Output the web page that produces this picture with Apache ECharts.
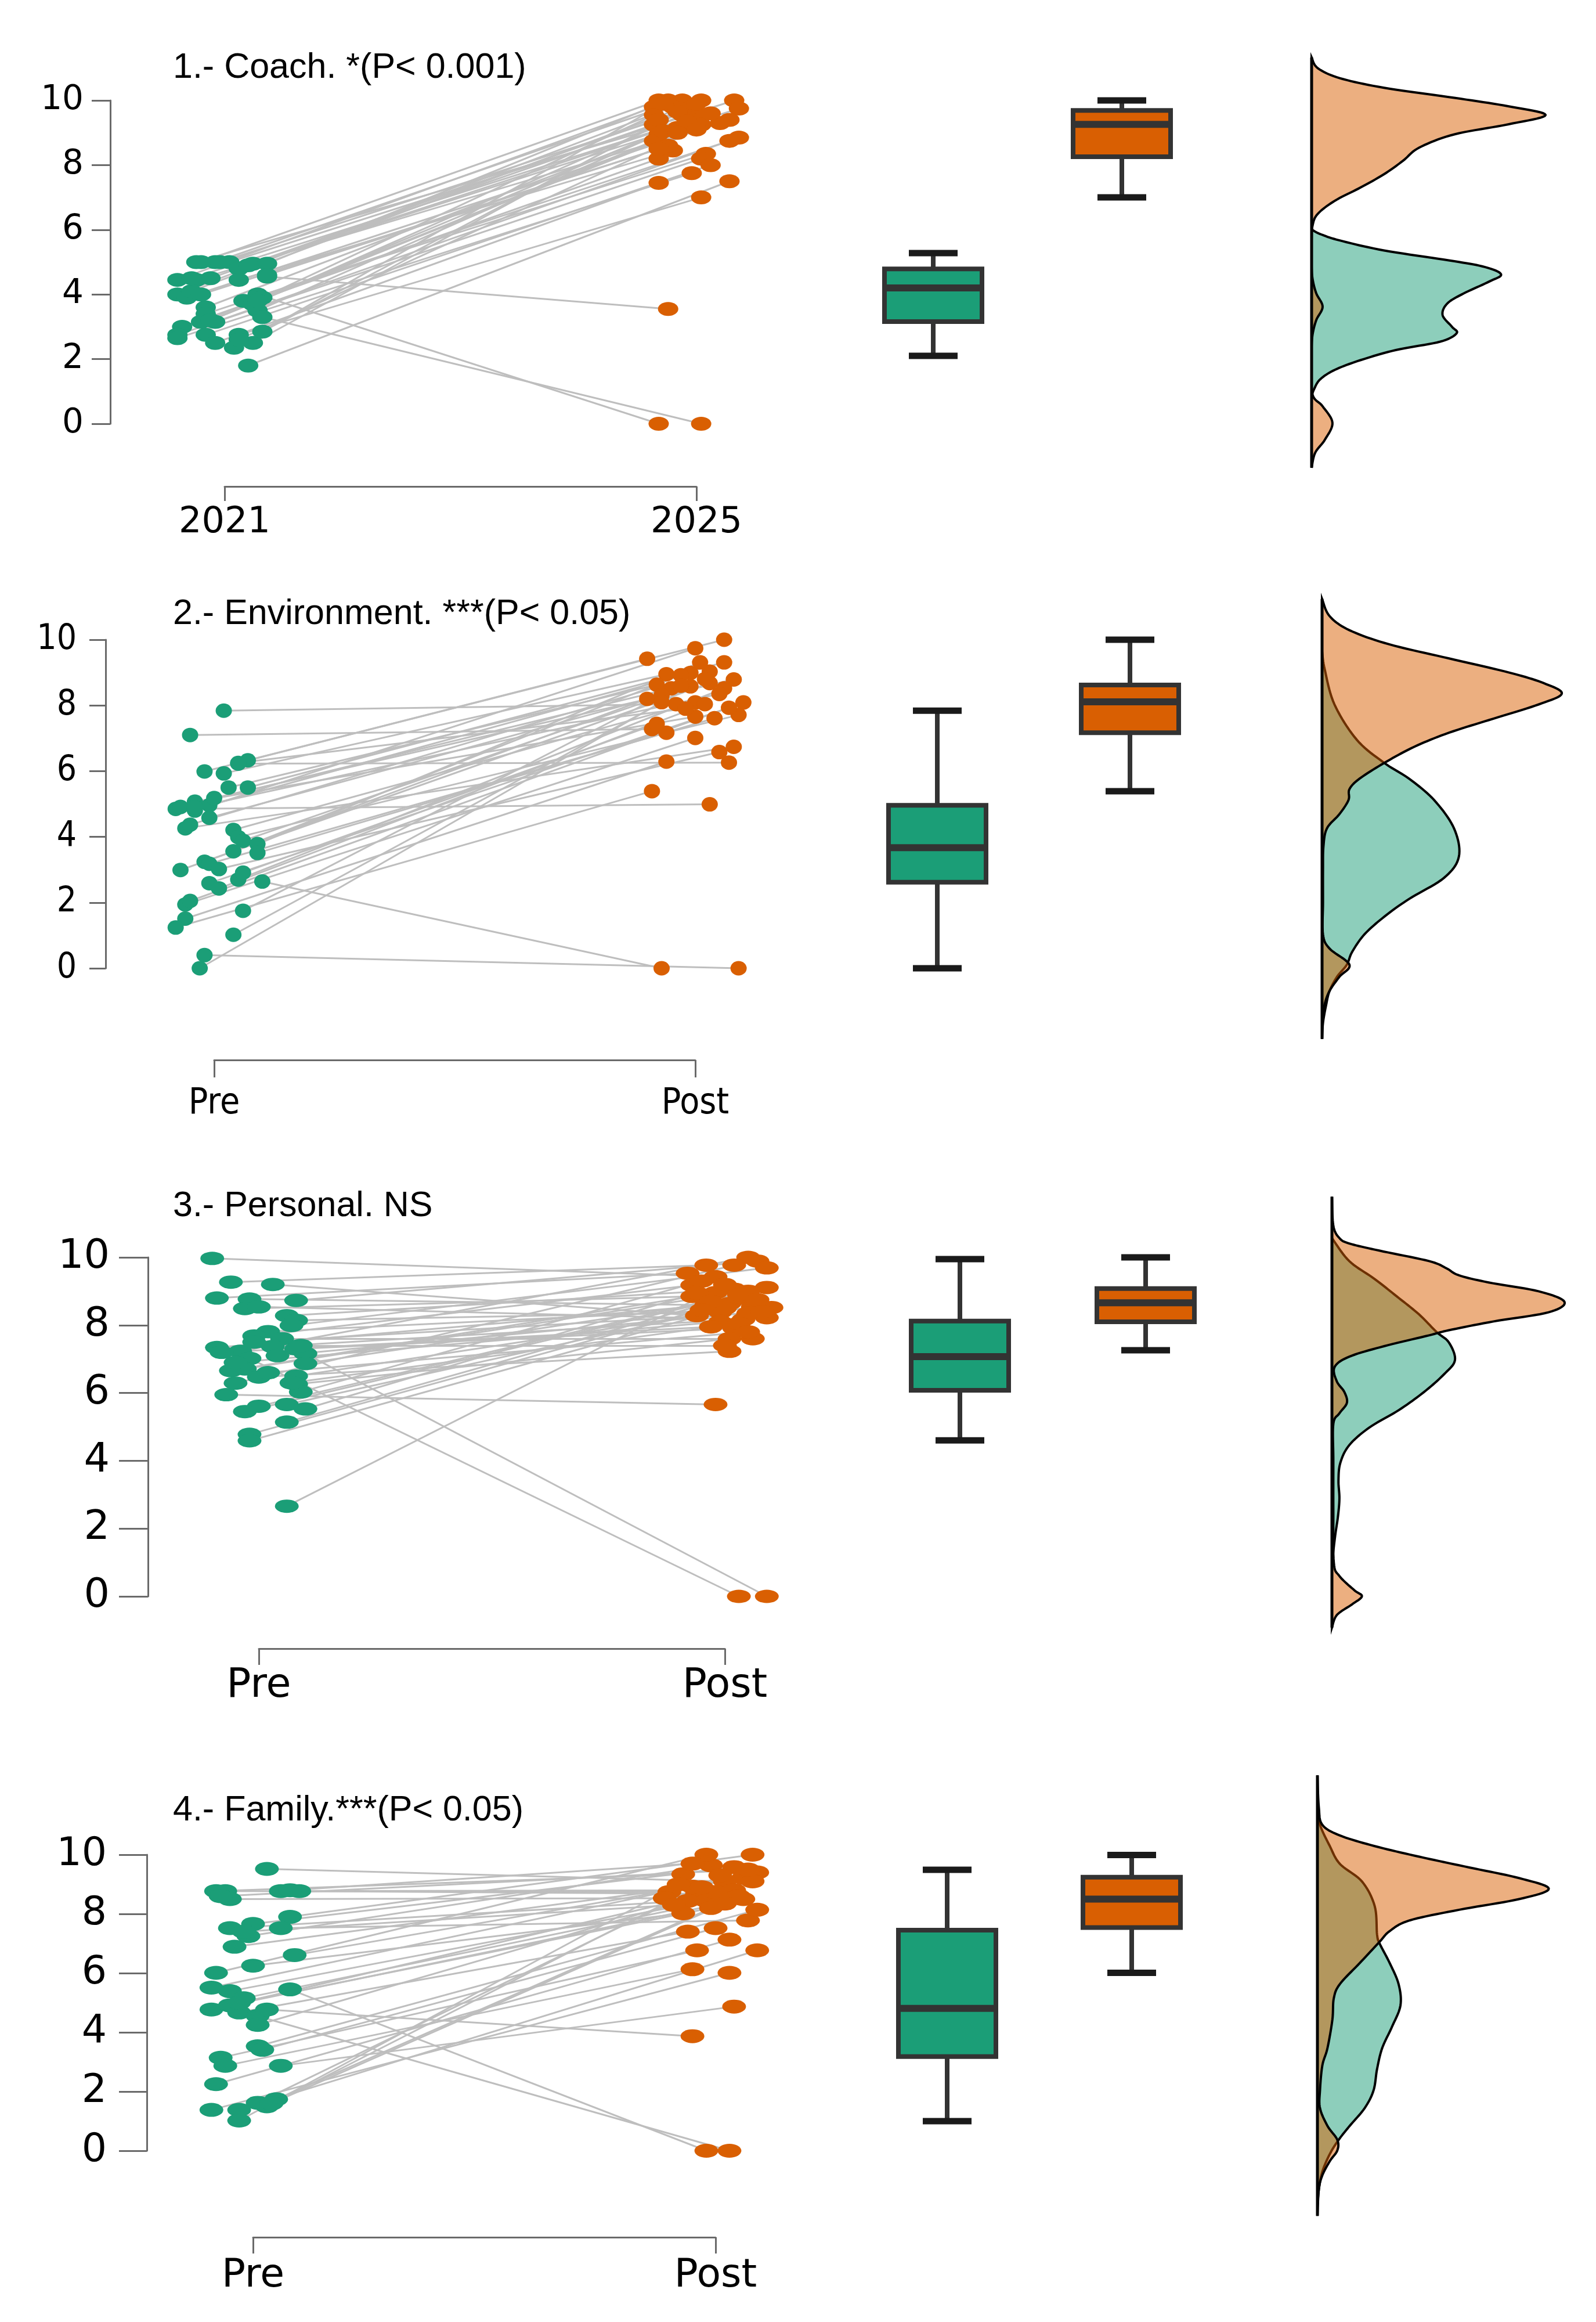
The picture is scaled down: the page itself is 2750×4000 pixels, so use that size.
<!DOCTYPE html>
<html><head><meta charset="utf-8">
<script src="https://cdn.jsdelivr.net/npm/echarts@6/dist/echarts.min.js"></script>
<style>html,body{margin:0;padding:0;background:#fff}#c{width:2750px;height:4000px}</style>
</head><body><div id="c"></div>
<script>
// ---------------- DATA ----------------
const titles = ['1.- Coach. *(P< 0.001)', '2.- Environment. ***(P< 0.05)', '3.- Personal. NS', '4.- Family.***(P< 0.05)'];
const xTickValues = [1, 2];
const xTickLabelsYears = ['2021', '2025'];
const xTickLabelsPrePost = ['Pre', 'Post'];

// Panel 1 - Coach (paired: pre[i] -> post[i]); X = jittered position (1 = first group, 2 = second)
const coachPreX = [0.95,0.94,0.98,1.01,1.03,1.06,1.09,0.90,0.94,0.97,1.03,1.09,0.90,0.92,0.93,1.04,1.07,1.08,0.96,0.96,1.06,1.07,1.08,0.95,0.97,0.98,0.91,0.90,0.90,0.96,0.98,1.03,1.02,1.06,1.08,1.05,0.99,1.05,0.93,1.07,0.97,1.03,1.09,0.95];
const coachPre  = [5.0,5.0,5.0,5.0,4.8,4.95,4.95,4.45,4.45,4.5,4.45,4.55,4.0,3.9,4.1,3.8,4.0,3.9,3.6,3.4,3.7,3.5,3.3,3.15,3.2,3.15,3.0,2.75,2.65,2.75,2.5,2.75,2.35,2.5,2.85,1.8,5.0,4.9,4.5,3.8,3.2,2.6,4.6,4.0];
const coachPostX = [1.92,2.01,1.97,2.08,1.91,2.09,1.94,1.91,2.07,1.99,1.95,1.94,1.95,2.05,2.01,2.02,1.92,1.91,1.96,2.09,1.97,1.92,2.01,2.01,1.91,2.07,1.92,2.01,1.99,2.03,1.92,2.01,1.93,1.96,2.0,2.07,1.92,1.98,2.03,1.93,1.96,2.0,1.94,1.92];
const coachPost  = [10.0,9.55,10.0,10.0,9.25,9.75,10.0,9.8,9.4,9.8,8.45,3.55,9.8,9.3,10.0,8.35,0,9.55,9.15,8.85,9.55,8.95,0,9.25,8.75,8.75,8.2,8.2,7.75,8.0,7.45,7.0,9.9,9.65,9.9,7.5,9.4,9.35,9.6,9.05,9.0,9.1,8.6,8.5];
const coachBoxPre  = [2.1, 3.16, 4.2, 4.79, 5.28];   // min, q1, median, q3, max
const coachBoxPost = [7.0, 8.26, 9.26, 9.69, 10.0];
const coachDensPre  = [[6.01,0],[5.87,0.036],[5.67,0.12],[5.36,0.31],[5.05,0.59],[4.85,0.74],[4.62,0.81],[4.40,0.76],[4.03,0.65],[3.72,0.58],[3.36,0.56],[3.0,0.60],[2.80,0.62],[2.54,0.55],[2.28,0.36],[1.97,0.21],[1.67,0.10],[1.37,0.036],[1.06,0.01],[0.85,0]];
const coachDensPost = [[11.33,0],[11.0,0.026],[10.69,0.12],[10.39,0.31],[10.08,0.61],[9.82,0.84],[9.55,1.0],[9.26,0.84],[8.95,0.61],[8.54,0.46],[8.13,0.39],[7.72,0.31],[7.31,0.21],[6.90,0.10],[6.49,0.026],[6.13,0.004],[5.67,0],[4.85,0],[4.44,0.005],[4.03,0.02],[3.62,0.047],[3.21,0.02],[2.80,0.005],[2.4,0],[1.77,0],[0.90,0.004],[0.54,0.047],[0.03,0.089],[-0.49,0.057],[-0.90,0.015],[-1.36,0]];

// Panel 2 - Environment
const envPreX = [1.02,0.95,0.98,1.02,1.03,1.07,1.05,1.07,0.92,0.93,0.96,0.96,0.99,1.00,0.99,0.94,0.95,1.04,1.05,1.06,1.04,1.09,1.09,0.98,0.99,0.93,1.01,0.99,1.01,1.05,1.06,1.10,0.94,0.95,0.94,0.92,1.06,1.04,0.98,0.97,0.96,1.05];
const envPre  = [7.84,7.10,5.99,5.93,5.50,5.50,6.23,6.33,4.85,4.91,5.07,4.80,4.96,5.18,4.58,4.26,4.37,4.21,3.99,3.88,3.56,3.78,3.51,3.24,3.18,2.99,3.02,2.59,2.43,2.70,2.91,2.64,1.94,2.05,1.51,1.24,1.75,1.02,0.40,0.0,4.9,6.25];
const envPostX = [1.96,1.91,1.90,1.94,1.92,2.06,2.07,2.06,2.03,1.95,2.00,2.00,1.99,2.08,1.93,2.08,2.03,2.00,2.09,1.99,1.97,2.01,2.04,1.90,1.94,2.03,2.05,2.07,2.02,2.06,1.92,1.93,2.00,2.10,1.94,1.91,1.97,2.02,2.09,1.93,2.05,1.98];
const envPost  = [8.04,7.28,9.42,8.95,8.63,9.31,6.26,10.0,4.99,8.52,7.66,9.74,8.99,8.79,8.31,6.74,9.03,8.09,7.71,8.58,8.92,9.31,7.61,8.20,7.17,8.68,6.58,7.93,8.04,8.52,7.44,0,7.01,8.09,6.29,5.39,8.6,8.8,0,8.1,8.35,7.9];
const envBoxPre  = [0, 2.62, 3.67, 4.96, 7.84];
const envBoxPost = [5.39, 7.17, 8.11, 8.62, 10.0];
const envDensPre  = [[9.65,0],[9.11,0.011],[8.03,0.053],[6.95,0.149],[6.25,0.266],[5.77,0.372],[5.12,0.479],[4.26,0.564],[3.40,0.585],[2.75,0.521],[2.11,0.372],[1.57,0.266],[1.03,0.181],[0.49,0.128],[0.11,0.106],[-0.26,0.064],[-0.69,0.032],[-1.13,0.017],[-1.66,0.004],[-2.15,0]];
const envDensPost = [[11.24,0],[10.72,0.032],[10.29,0.117],[9.86,0.287],[9.43,0.543],[9.0,0.80],[8.68,0.947],[8.36,1.025],[8.03,0.926],[7.60,0.734],[7.17,0.543],[6.74,0.394],[6.25,0.266],[5.77,0.16],[5.45,0.117],[5.12,0.113],[4.69,0.074],[4.26,0.021],[3.72,0.006],[3.0,0.004],[2.0,0.004],[1.03,0.004],[0.60,0.032],[0.11,0.117],[-0.26,0.074],[-0.69,0.032],[-1.13,0.01],[-1.66,0.002],[-2.15,0]];

// Panel 3 - Personal
const personalPreX = [0.90,0.94,1.03,0.91,0.98,1.08,0.97,1.00,1.06,1.08,1.07,1.02,0.99,1.05,0.91,0.96,1.03,1.08,1.10,0.98,1.10,0.94,0.97,1.00,1.08,0.95,1.08,1.09,0.93,1.06,1.10,1.00,0.97,1.06,0.98,0.98,1.06,0.99,1.04,0.95,1.07,0.92,1.02,1.09];
const personalPre  = [9.97,9.27,9.20,8.80,8.77,8.73,8.49,8.54,8.28,8.14,7.99,7.81,7.68,7.60,7.34,7.23,7.37,7.30,7.16,7.02,6.87,6.66,6.71,6.47,6.50,6.29,6.26,6.03,5.95,5.66,5.53,5.61,5.45,5.14,4.78,4.59,2.66,7.5,7.1,6.9,6.3,7.2,6.6,7.4];
const personalPostX = [1.98,1.96,1.94,1.92,1.96,2.07,1.93,2.04,2.02,1.99,2.09,2.10,1.93,2.06,2.01,2.05,2.09,2.02,2.09,2.03,2.04,1.98,2.09,2.01,2.06,2.02,2.01,1.95,1.98,2.0,1.94,2.05,1.97,2.03,1.95,2.07,2.0,2.05,2.08,1.99,2.03,1.97,2.05,2.0];
const personalPost  = [9.43,9.77,8.28,9.53,8.59,9.89,8.85,8.17,9.06,8.38,9.69,8.52,9.18,7.60,8.64,10.0,8.22,7.91,0,0,8.80,8.96,9.11,7.23,8.54,9.77,7.60,9.3,5.66,8.5,8.95,9.0,8.7,8.9,8.45,8.75,9.2,8.35,8.4,8.1,8.05,7.95,7.8,7.4];
const personalBoxPre  = [4.60, 6.08, 7.07, 8.12, 9.95];
const personalBoxPost = [7.26, 8.10, 8.66, 9.08, 10.0];
const personalDensPre  = [[10.57,0],[9.89,0.074],[9.37,0.181],[8.85,0.277],[8.32,0.372],[7.80,0.447],[7.49,0.50],[6.97,0.526],[6.55,0.479],[6.03,0.394],[5.50,0.287],[4.98,0.16],[4.46,0.074],[3.94,0.036],[3.42,0.028],[2.89,0.032],[2.37,0.026],[1.85,0.015],[1.33,0.006],[0.91,0]];
const personalDensPost = [[11.79,0],[10.93,0.006],[10.57,0.032],[10.41,0.074],[10.20,0.202],[9.89,0.415],[9.68,0.489],[9.47,0.543],[9.26,0.67],[9.0,0.883],[8.69,0.994],[8.38,0.926],[8.11,0.691],[7.85,0.50],[7.70,0.415],[7.38,0.223],[7.07,0.074],[6.76,0.011],[6.34,0.021],[6.03,0.053],[5.71,0.064],[5.40,0.032],[5.09,0.006],[4.0,0.006],[2.5,0.006],[1.0,0.008],[0.60,0.032],[0.18,0.096],[0.0,0.128],[-0.24,0.085],[-0.55,0.021],[-0.92,0]];

// Panel 4 - Family
const familyPreX = [1.03,0.92,0.94,0.95,1.06,1.10,1.08,1.06,1.00,0.95,0.99,0.96,1.09,1.00,0.92,0.91,0.95,0.98,1.08,0.91,0.95,0.97,1.01,1.03,1.01,1.01,1.02,0.93,0.94,1.06,0.92,0.91,0.97,0.97,1.01,1.03,1.05,0.93,1.08,0.98,0.97,1.04];
const familyPre  = [9.52,8.77,8.77,8.50,8.77,8.77,7.90,7.52,7.66,7.52,7.25,6.89,6.61,6.25,6.01,5.51,5.39,5.15,5.45,4.77,4.91,4.67,4.55,4.77,4.25,3.53,3.41,3.14,2.87,2.87,2.25,1.38,1.38,1.02,1.62,1.50,1.74,8.6,8.8,7.4,5.0,1.6];
const familyPostX = [2.02,1.93,1.90,1.89,2.04,1.96,2.08,2.07,2.04,1.94,1.99,1.95,2.06,1.93,1.98,2.09,1.98,2.03,1.98,2.00,2.06,1.94,2.03,1.95,2.08,2.09,2.00,1.96,1.95,2.04,2.03,2.03,2.09,1.92,1.97,2.01,2.05,2.07,1.95,1.91,1.99,2.02];
const familyPost  = [9.10,9.34,8.74,8.53,8.80,8.68,10.0,7.78,9.58,8.44,9.64,8.92,9.22,8.02,10.0,9.40,8.44,8.53,0,8.74,8.50,7.40,0,3.87,9.10,8.14,7.52,6.77,6.13,4.87,7.13,6.01,6.77,9.0,8.9,9.3,8.6,9.5,9.7,8.3,8.2,8.35];
const familyBoxPre  = [1.0, 3.18, 4.81, 7.45, 9.49];
const familyBoxPost = [6.01, 7.54, 8.50, 9.24, 9.99];
const familyDensPre  = [[11.6,0],[11.01,0.011],[10.29,0.053],[9.69,0.096],[9.09,0.191],[8.26,0.245],[7.30,0.255],[7.00,0.266],[6.34,0.309],[5.63,0.347],[4.91,0.355],[4.19,0.319],[3.47,0.277],[2.76,0.255],[2.04,0.24],[1.44,0.202],[0.84,0.138],[0.37,0.091],[-0.11,0.053],[-0.71,0.021],[-1.31,0.006],[-1.91,0]];
const familyDensPost = [[12.68,0],[11.60,0.006],[11.01,0.021],[10.65,0.096],[10.29,0.245],[9.93,0.436],[9.57,0.649],[9.21,0.862],[8.85,0.989],[8.50,0.862],[8.14,0.606],[7.78,0.394],[7.42,0.309],[7.06,0.266],[6.34,0.181],[5.63,0.096],[5.15,0.070],[4.43,0.064],[3.47,0.043],[2.88,0.021],[2.04,0.011],[1.44,0.011],[0.84,0.043],[0.37,0.085],[0.01,0.085],[-0.35,0.053],[-0.83,0.021],[-1.31,0.006],[-2.20,0]];

// ---------------- LAYOUT / STYLE ----------------
const GREEN = '#1B9E77', ORANGE = '#D95F02';
const AXIS = '#6a6a6a';
const WIDE = "'DejaVu Sans', Verdana, sans-serif";
const COND = "'DejaVu Sans Condensed', 'Liberation Sans Narrow', 'Liberation Sans', sans-serif";
const TITLE_FONT = "'Liberation Sans', Arial, Helvetica, sans-serif";
const DENS_W = 403;   // px for density 1.0
const BOX_W = 168;

const layout = [
  {yAxisX:190, y10:173, y0:730, t1:387, t2:1200, xAxisY:838, boxPx:[1608,1933], densX:2260, pt:[35,24], titleY:117,
   yFont:WIDE, ySize:58, yMargin:46, xFont:WIDE, xSize:62, xMargin:32, yTick:32, xTick:25},
  {yAxisX:182, y10:1102, y0:1668, t1:369, t2:1198, xAxisY:1826, boxPx:[1615,1947], densX:2278, pt:[28,25], titleY:1058,
   yFont:COND, ySize:60, yMargin:50, xFont:COND, xSize:62, xMargin:45, yTick:28, xTick:30},
  {yAxisX:255, y10:2166, y0:2750, t1:446, t2:1249, xAxisY:2840, boxPx:[1654,1974], densX:2295, pt:[41,23], titleY:2078,
   yFont:WIDE, ySize:70, yMargin:66, xFont:WIDE, xSize:70, xMargin:30, yTick:50, xTick:28},
  {yAxisX:253, y10:3195, y0:3705, t1:436, t2:1233, xAxisY:3854, boxPx:[1632,1950], densX:2270, pt:[41,24], titleY:3119,
   yFont:WIDE, ySize:68, yMargin:69, xFont:WIDE, xSize:68, xMargin:33, yTick:48, xTick:28}
];

const panels = [
  {title:titles[0], xLabels:xTickLabelsYears, preX:coachPreX, pre:coachPre, postX:coachPostX, post:coachPost, boxPre:coachBoxPre, boxPost:coachBoxPost, densPre:coachDensPre, densPost:coachDensPost},
  {title:titles[1], xLabels:xTickLabelsPrePost, preX:envPreX, pre:envPre, postX:envPostX, post:envPost, boxPre:envBoxPre, boxPost:envBoxPost, densPre:envDensPre, densPost:envDensPost},
  {title:titles[2], xLabels:xTickLabelsPrePost, preX:personalPreX, pre:personalPre, postX:personalPostX, post:personalPost, boxPre:personalBoxPre, boxPost:personalBoxPost, densPre:personalDensPre, densPost:personalDensPost},
  {title:titles[3], xLabels:xTickLabelsPrePost, preX:familyPreX, pre:familyPre, postX:familyPostX, post:familyPost, boxPre:familyBoxPre, boxPost:familyBoxPost, densPre:familyDensPre, densPost:familyDensPost}
];

const ELLIPSE = 'path://M0,50a50,50 0 1,0 100,0a50,50 0 1,0 -100,0z';

function spline(pts, n) {
  const out = [];
  for (let i = 0; i < pts.length - 1; i++) {
    const p0 = pts[Math.max(i - 1, 0)], p1 = pts[i], p2 = pts[i + 1], p3 = pts[Math.min(i + 2, pts.length - 1)];
    for (let s = 0; s < n; s++) {
      const t = s / n, t2 = t * t, t3 = t2 * t;
      const f = (a, b, c, d) => 0.5 * ((2 * b) + (-a + c) * t + (2 * a - 5 * b + 4 * c - d) * t2 + (-a + 3 * b - 3 * c + d) * t3);
      out.push([f(p0[0], p1[0], p2[0], p3[0]), f(p0[1], p1[1], p2[1], p3[1])]);
    }
  }
  out.push(pts[pts.length - 1]);
  return out;
}

const grids = [], xAxes = [], yAxes = [], series = [], titleOpts = [];

panels.forEach((p, k) => {
  const L = layout[k];
  const pxPerU = L.t2 - L.t1;
  const mainW = 2120 - L.yAxisX;
  const xMin = 1 - (L.t1 - L.yAxisX) / pxPerU;
  const xMax = xMin + mainW / pxPerU;
  const gi = grids.length;

  titleOpts.push({text:p.title, left:298, top:L.titleY - 36, padding:0,
    textStyle:{fontFamily:TITLE_FONT, fontSize:61, fontWeight:'normal', color:'#000', lineHeight:72}});

  // main grid (points, lines, boxes) with y axis
  grids.push({left:L.yAxisX, top:L.y10, width:mainW, height:L.y0 - L.y10});
  xAxes.push({gridIndex:gi, type:'value', min:xMin, max:xMax, show:false});
  yAxes.push({gridIndex:gi, type:'value', min:0, max:10, interval:2,
    axisLine:{show:true, lineStyle:{color:AXIS, width:3}},
    axisTick:{show:true, length:L.yTick, lineStyle:{color:AXIS, width:3}},
    axisLabel:{color:'#000', fontFamily:L.yFont, fontSize:L.ySize, margin:L.yMargin},
    splitLine:{show:false}});

  // x-axis display grid (axis line spans only between the two ticks)
  grids.push({left:L.t1, top:L.xAxisY - 2, width:pxPerU, height:2});
  xAxes.push({gridIndex:gi + 1, type:'value', min:1, max:2, interval:1, position:'bottom',
    axisLine:{show:true, lineStyle:{color:AXIS, width:3}},
    axisTick:{show:true, length:L.xTick, lineStyle:{color:AXIS, width:3}},
    axisLabel:{color:'#000', fontFamily:L.xFont, fontSize:L.xSize, margin:L.xMargin, showMinLabel:true, showMaxLabel:true,
      formatter:(v) => { const i = xTickValues.indexOf(v); return i >= 0 ? p.xLabels[i] : ''; }},
    splitLine:{show:false}});
  yAxes.push({gridIndex:gi + 1, type:'value', show:false});

  // density grid
  grids.push({left:L.densX, top:L.y10, width:DENS_W, height:L.y0 - L.y10});
  xAxes.push({gridIndex:gi + 2, type:'value', min:0, max:1, show:false});
  yAxes.push({gridIndex:gi + 2, type:'value', min:0, max:10, show:false});

  // connecting lines
  series.push({type:'lines', coordinateSystem:'cartesian2d', xAxisIndex:gi, yAxisIndex:gi, silent:true, z:1,
    lineStyle:{color:'#BEBEBE', width:3, opacity:1},
    data:p.pre.map((v, i) => ({coords:[[p.preX[i], v], [p.postX[i], p.post[i]]]}))});
  // points
  series.push({type:'scatter', xAxisIndex:gi, yAxisIndex:gi, z:3, clip:false, symbol:ELLIPSE, symbolSize:L.pt,
    itemStyle:{color:GREEN, opacity:1}, data:p.pre.map((v, i) => [p.preX[i], v])});
  series.push({type:'scatter', xAxisIndex:gi, yAxisIndex:gi, z:3, clip:false, symbol:ELLIPSE, symbolSize:L.pt,
    itemStyle:{color:ORANGE, opacity:1}, data:p.post.map((v, i) => [p.postX[i], v])});

  // box plots
  const boxU = L.boxPx.map(px => 1 + (px - L.t1) / pxPerU);
  series.push({type:'custom', xAxisIndex:gi, yAxisIndex:gi, z:3, clip:false,
    data:[[boxU[0]].concat(p.boxPre), [boxU[1]].concat(p.boxPost)],
    renderItem:(params, api) => {
      const u = api.value(0);
      const yv = [1, 2, 3, 4, 5].map(d => api.coord([u, api.value(d)])[1]);
      const cx = api.coord([u, 0])[0];
      const fill = params.dataIndex === 0 ? GREEN : ORANGE;
      const h = BOX_W / 2, c = BOX_W / 4;
      return {type:'group', children:[
        {type:'line', shape:{x1:cx, y1:yv[4], x2:cx, y2:yv[3]}, style:{stroke:'#333', lineWidth:8}},
        {type:'line', shape:{x1:cx, y1:yv[1], x2:cx, y2:yv[0]}, style:{stroke:'#333', lineWidth:8}},
        {type:'line', shape:{x1:cx - c, y1:yv[4], x2:cx + c, y2:yv[4]}, style:{stroke:'#1a1a1a', lineWidth:11}},
        {type:'line', shape:{x1:cx - c, y1:yv[0], x2:cx + c, y2:yv[0]}, style:{stroke:'#1a1a1a', lineWidth:11}},
        {type:'rect', shape:{x:cx - h, y:yv[3], width:BOX_W, height:yv[1] - yv[3]}, style:{fill:fill, stroke:'#333', lineWidth:8}},
        {type:'line', shape:{x1:cx - h + 4, y1:yv[2], x2:cx + h - 4, y2:yv[2]}, style:{stroke:'#333', lineWidth:12}}
      ]};
    }});

  // density (half violins)
  series.push({type:'custom', xAxisIndex:gi + 2, yAxisIndex:gi + 2, z:3, clip:false, data:[[0, 0]],
    renderItem:(params, api) => {
      const baseX = api.coord([0, 0])[0];
      const curve = arr => {
        const px = arr.map(([v, d]) => api.coord([d, v]));
        const sm = spline(px, 10).map(q => [Math.max(q[0], baseX), q[1]]);
        return [[baseX, px[0][1]]].concat(sm, [[baseX, px[px.length - 1][1]]]);
      };
      const allV = p.densPre.concat(p.densPost).map(a => a[0]);
      const top = api.coord([0, Math.max(...allV)]), bot = api.coord([0, Math.min(...allV)]);
      return {type:'group', children:[
        {type:'polygon', shape:{points:curve(p.densPre)}, style:{fill:'rgba(27,158,119,0.5)', stroke:'#000', lineWidth:4}},
        {type:'polygon', shape:{points:curve(p.densPost)}, style:{fill:'rgba(217,95,2,0.5)', stroke:'#000', lineWidth:4}},
        {type:'line', shape:{x1:top[0], y1:top[1], x2:bot[0], y2:bot[1]}, style:{stroke:'#000', lineWidth:5}}
      ]};
    }});
});

const chart = echarts.init(document.getElementById('c'), null, {renderer:'canvas'});
chart.setOption({
  backgroundColor:'#fff',
  animation:false,
  title:titleOpts,
  grid:grids,
  xAxis:xAxes,
  yAxis:yAxes,
  series:series
});
</script></body></html>
